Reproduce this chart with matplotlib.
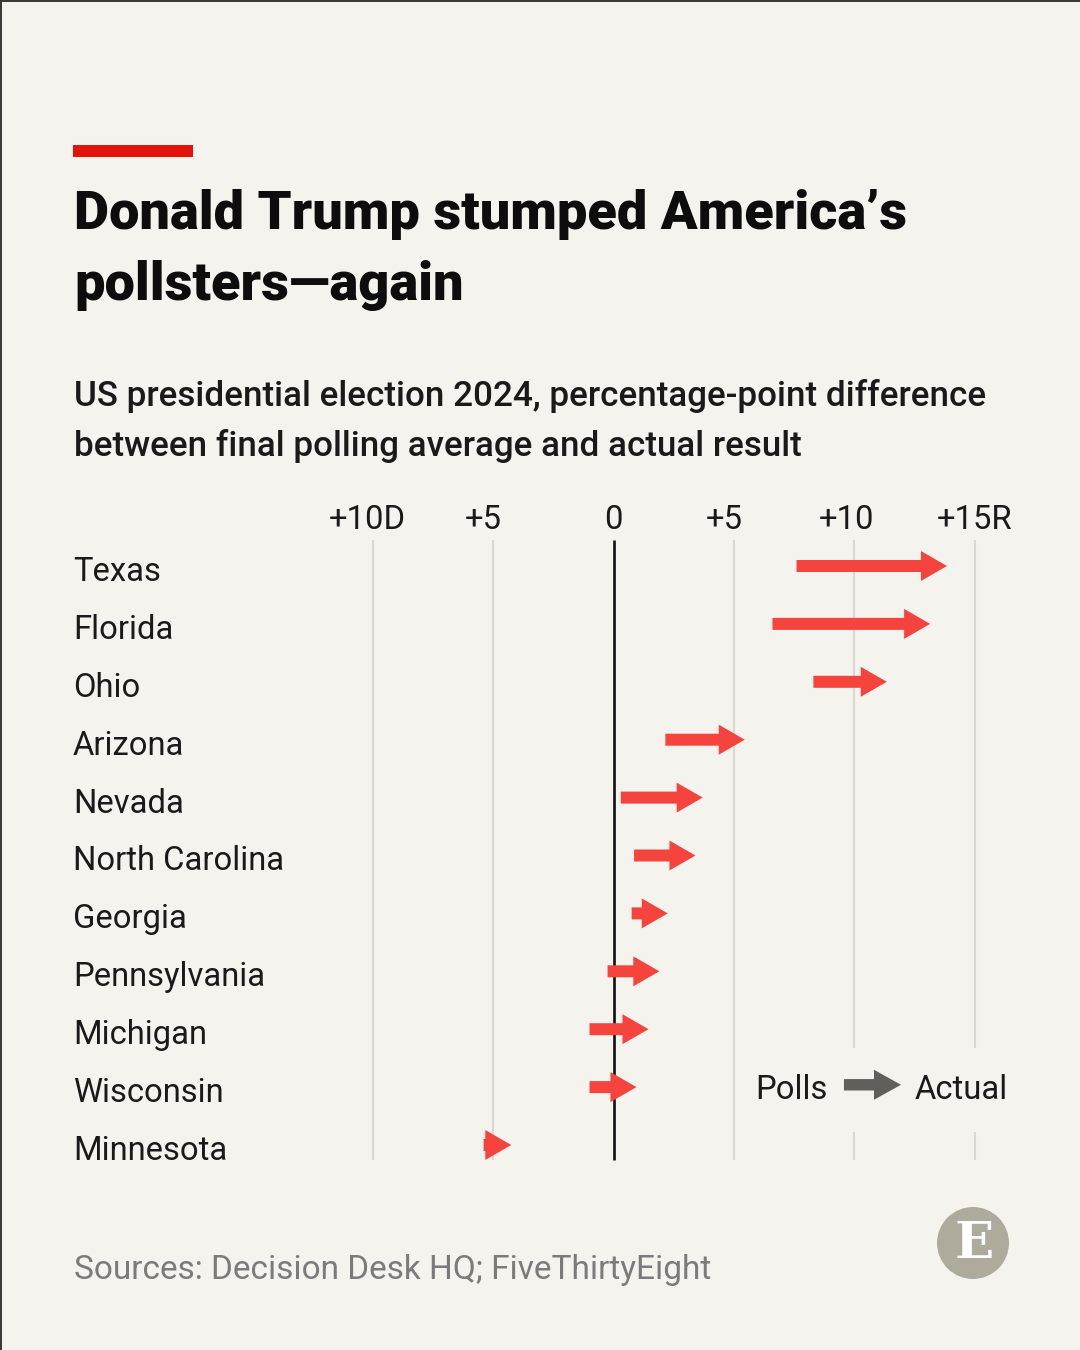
import matplotlib
matplotlib.use("Agg")
import matplotlib.pyplot as plt
from matplotlib import font_manager as fm
from matplotlib.patches import Rectangle, Ellipse
from matplotlib.transforms import blended_transform_factory

# Data (percentage points, + = Republican lean)
states = ["Texas", "Florida", "Ohio", "Arizona", "Nevada", "North Carolina",
          "Georgia", "Pennsylvania", "Michigan", "Wisconsin", "Minnesota"]
polls = [7.6, 6.6, 8.3, 2.15, 0.3, 0.85, 0.75, -0.25, -1.0, -1.0, -5.4]
actual = [13.85, 13.15, 11.35, 5.45, 3.7, 3.4, 2.25, 1.9, 1.45, 0.95, -4.25]
tick_vals = [-10, -5, 0, 5, 10, 15]
tick_text = ["+10D", "+5", "0", "+5", "+10", "+15R"]
tick_shift = [-6, -10, 0, -10, -8, 0]   # pixel nudges of tick labels

BG = "#f4f3ee"
RED = "#f5443d"
GREY_ARROW = "#5f5f5b"
GRID = "#d8d8d5"

names = {f.name for f in fm.fontManager.ttflist}
COND = "Liberation Sans Narrow" if "Liberation Sans Narrow" in names else "Roboto"
SANS = "Roboto" if "Roboto" in names else "DejaVu Sans"

W, H = 1080, 1350
fig = plt.figure(figsize=(W / 100, H / 100), dpi=100, facecolor=BG)


def fx(x):
    return x / W


def fy(y):
    return 1 - y / H


renderer = fig.canvas.get_renderer()


def fit(t, width):
    bb = t.get_window_extent(renderer)
    t.set_fontsize(t.get_fontsize() * width / bb.width)
    return t.get_fontsize()


# thin frame on top / left edge
fig.add_artist(Rectangle((0, fy(2)), 1, fy(0) - fy(2), transform=fig.transFigure,
                         color="#3a3a3a", lw=0))
fig.add_artist(Rectangle((0, 0), fx(2), 1, transform=fig.transFigure,
                         color="#3a3a3a", lw=0))

# red tag
fig.add_artist(Rectangle((fx(73), fy(157)), fx(120), fy(145) - fy(157),
                         transform=fig.transFigure, color="#e3120b", lw=0))

# title
t1 = fig.text(fx(74), fy(229), "Donald Trump stumped America\u2019s", fontsize=40,
              fontweight="heavy", family=COND, color="#0d0d0d", va="baseline")
s = fit(t1, 832)
fig.text(fx(74), fy(300), "pollsters\u2014again", fontsize=s, fontweight="heavy",
         family=COND, color="#0d0d0d", va="baseline")

# subtitle
st = fig.text(fx(74), fy(406), "US presidential election 2024, percentage-point difference",
              fontsize=20, fontweight="medium", family=SANS, color="#1a1a1a", va="baseline")
s = fit(st, 912)
fig.text(fx(74), fy(456), "between final polling average and actual result", fontsize=s,
         fontweight="medium", family=SANS, color="#1a1a1a", va="baseline")

# axes geometry (pixels)
x0_px, ppp = 613.6, 24.07
row0_px, row_step = 566, 57.9
ax_l, ax_r, ax_t, ax_b = 300, 1040, 530, 1175
ax = fig.add_axes([fx(ax_l), fy(ax_b), fx(ax_r - ax_l), fy(ax_t) - fy(ax_b)])
ax.set_xlim((ax_l - x0_px) / ppp, (ax_r - x0_px) / ppp)
ax.set_ylim((ax_b - row0_px) / row_step, (ax_t - row0_px) / row_step)
ax.axis("off")
ax.patch.set_alpha(0)

y_grid_top = (540 - row0_px) / row_step
y_grid_bot = (1160 - row0_px) / row_step
for v in tick_vals:
    if v == 0:
        ax.vlines(v, y_grid_top, y_grid_bot, color="#111111", lw=1.9, zorder=3)
    else:
        ax.vlines(v, y_grid_top, y_grid_bot, color=GRID, lw=1.5, zorder=1)

# legend background box breaks the gridlines
leg_row = 9
ax.add_patch(Rectangle((5.45, (1048 - row0_px) / row_step), 11.3, 84 / row_step,
                       facecolor=BG, edgecolor="none", zorder=2))

head_len = 26 / ppp
shaft_w = 12 / row_step
head_w = 30 / row_step
for i, (p, a) in enumerate(zip(polls, actual)):
    ax.arrow(p, i, a - p, 0, width=shaft_w, head_width=head_w, head_length=head_len,
             length_includes_head=True, color=RED, lw=0, zorder=4)

# legend
ax.arrow(9.57, leg_row - 0.04, 2.37, 0, width=shaft_w * 0.95, head_width=head_w,
         head_length=27 / ppp, length_includes_head=True, color=GREY_ARROW, lw=0, zorder=4)

# row labels
blend = blended_transform_factory(fig.transFigure, ax.transData)
lab = ax.text(fx(73), 5 + 15 / row_step, states[5], transform=blend, fontsize=24,
              family=COND, color="#1a1a1a", va="baseline")
lab_size = fit(lab, 211)
for i, name in enumerate(states):
    if i == 5:
        continue
    ax.text(fx(73), i + 15 / row_step, name, transform=blend, fontsize=lab_size,
            family=COND, color="#1a1a1a", va="baseline")

leg_base = leg_row + (1099 - 1087) / row_step
ax.text((828 - x0_px) / ppp, leg_base, "Polls", fontsize=lab_size, family=COND,
        color="#1a1a1a", ha="right", va="baseline", zorder=5)
ax.text((915 - x0_px) / ppp, leg_base, "Actual", fontsize=lab_size, family=COND,
        color="#1a1a1a", ha="left", va="baseline", zorder=5)

# tick labels on top
tick_y = (529 - row0_px) / row_step
for v, txt, sh in zip(tick_vals, tick_text, tick_shift):
    ax.text(v + sh / ppp, tick_y, txt, fontsize=lab_size, family=COND, color="#1a1a1a",
            ha="center", va="baseline", clip_on=False)

# source
src = fig.text(fx(74), fy(1279), "Sources: Decision Desk HQ; FiveThirtyEight",
               fontsize=24, family=COND, color="#7b7b7b", va="baseline")
fit(src, 637)

# logo
fig.add_artist(Ellipse((fx(973), fy(1243)), 72 / W, 72 / H, transform=fig.transFigure,
                       color="#aeab9d", lw=0))
fig.text(fx(974), fy(1244), "E", fontsize=37, family="DejaVu Serif", fontweight="bold",
         color="white", ha="center", va="center")

fig.savefig("out.png", dpi=100, facecolor=BG)
